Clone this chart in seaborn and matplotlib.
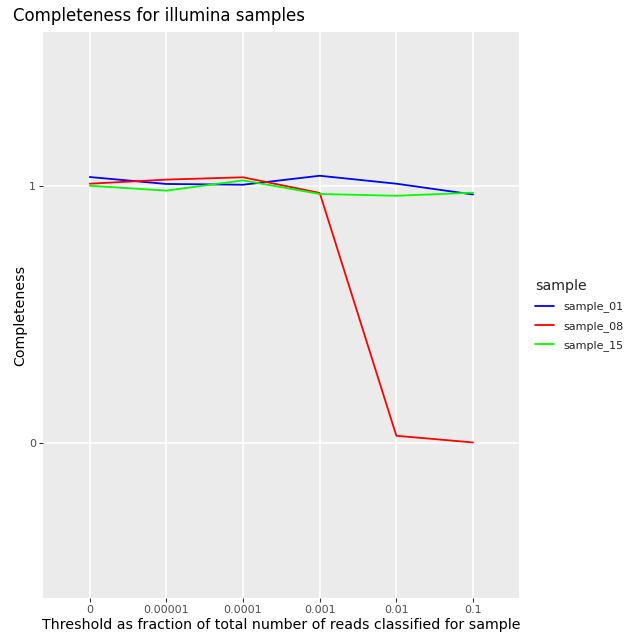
import matplotlib
matplotlib.use("Agg")
import matplotlib.pyplot as plt
import seaborn as sns
import pandas as pd

thresholds = ["0", "0.00001", "0.0001", "0.001", "0.01", "0.1"]
sample_01 = [1.035, 1.008, 1.005, 1.040, 1.009, 0.967]
sample_08 = [1.009, 1.025, 1.034, 0.973, 0.027, 0.001]
sample_15 = [1.001, 0.982, 1.022, 0.969, 0.962, 0.974]
samples = ["sample_01", "sample_08", "sample_15"]
colors = ["#0000FF", "#FF0000", "#00FF00"]
y_ticks = [0, 1]

rows = []
for name, vals in zip(samples, [sample_01, sample_08, sample_15]):
    for i, (t, v) in enumerate(zip(thresholds, vals)):
        rows.append({"pos": i, "threshold": t, "Completeness": v, "sample": name})
df = pd.DataFrame(rows)

sns.set_theme(style="darkgrid")
plt.rcParams['font.family'] = ['DejaVu Sans']

fig = plt.figure(figsize=(6.3, 6.35), dpi=100)
ax = fig.add_axes([43/630, 37/635, 476/630, 566/635])
ax.set_facecolor("#EBEBEB")

sns.lineplot(data=df, x="pos", y="Completeness", hue="sample",
             palette=dict(zip(samples, colors)), linewidth=1.3, ax=ax,
             legend=True, sort=False)

ax.set_xlim(-0.61, 5.6)
ax.set_ylim(-0.605, 1.60)
ax.set_xticks(range(len(thresholds)))
ax.set_xticklabels(thresholds)
ax.set_yticks(y_ticks)
ax.set_yticklabels([str(y) for y in y_ticks])
ax.grid(True, color="white", linewidth=1.2)
ax.grid(False, which="minor")
for s in ax.spines.values():
    s.set_visible(False)
ax.tick_params(axis="both", which="major", length=3, width=0.8, color="#333333",
               labelsize=8, labelcolor="#4D4D4D", pad=2, direction="out")
ax.tick_params(left=True, bottom=True)
ax.set_xlabel("Threshold as fraction of total number of reads classified for sample",
              fontsize=10.2, color="black", labelpad=2)
ax.set_ylabel("Completeness", fontsize=10.2, color="black", labelpad=1)
ax.set_title("Completeness for illumina samples", loc="left", fontsize=12,
             color="black", x=-0.064, pad=8)

leg = ax.legend(title="sample", loc="center left", bbox_to_anchor=(1.012, 0.5),
                frameon=False, fontsize=8, title_fontsize=10.2,
                handlelength=1.7, labelspacing=0.75, alignment="left",
                handletextpad=0.9, borderpad=0.4)
for line in leg.get_lines():
    line.set_linewidth(1.3)

fig.savefig("out.png", dpi=100, facecolor="white")
